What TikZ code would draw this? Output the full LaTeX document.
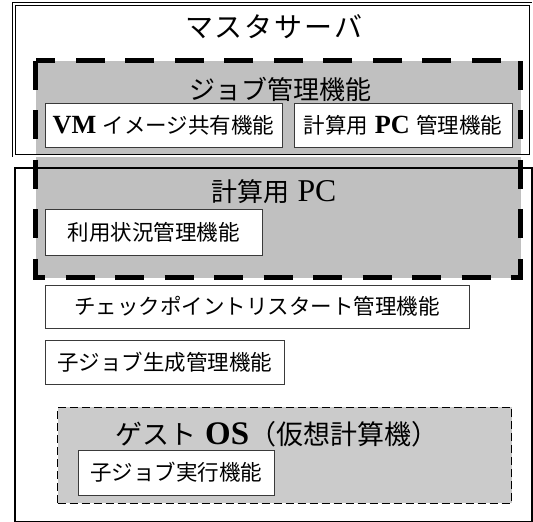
\documentclass[tikz,border=0pt]{standalone}
\usepackage{fontspec}
\setmainfont{Liberation Serif}[Scale=1.22]
\newfontfamily\jp{Noto Sans CJK JP}
\definecolor{regiongrey}{HTML}{C0C0C0}
\definecolor{guestgrey}{HTML}{CBCBCB}
\definecolor{boxline}{HTML}{3A3A3A}
\tikzset{
  funcbox/.style={draw=boxline, line width=0.9pt, fill=white, inner sep=0pt, font=\fontsize{21.5}{24}\selectfont},
  titletext/.style={inner sep=0pt, font=\fontsize{26}{30}\selectfont},
  thickdash/.style={line width=5pt, dash pattern=on 29pt off 20.5pt},
  thindash/.style={line width=1.3pt, dash pattern=on 8pt off 4pt},
}
\begin{document}
\begin{tikzpicture}[x=1pt,y=-1pt]
\useasboundingbox (0,0) rectangle (533,522);
% grey job-management region (fill)
\node[fill=regiongrey, draw=none, inner sep=0pt, minimum width=485pt, minimum height=217pt, anchor=north west] (jobregion) at (35.5,60.5) {};
% master server frame
\node[draw=black, double, double distance=2pt, line width=0.8pt, inner sep=0pt, minimum width=516.4pt, minimum height=151.4pt, anchor=north west] (master) at (13.8,3.8) {};
% compute PC frame
\node[draw=black, line width=2.5pt, inner sep=0pt, minimum width=517pt, minimum height=354pt, anchor=north west] (pc) at (13.5,166.5) {};
% dashed border of job region
\draw[thickdash] (jobregion.north west) rectangle (jobregion.south east);
% guest OS box
\node[fill=guestgrey, draw=black, thindash, inner sep=0pt, minimum width=454pt, minimum height=96pt, anchor=north west] (guest) at (57,406.5) {};

% titles
\node[titletext, font=\fontsize{28}{32}\selectfont] (mtitle) at (274,27) {\jp マ\hspace{2pt}ス\hspace{2pt}タ\hspace{2pt}サ\hspace{2pt}ー\hspace{2pt}バ};
\node[titletext] (jtitle) at (280,89) {\jp ジョブ管理機能};
\node[titletext] (ptitle) at (274,192) {{\jp 計算用} PC};
\node[titletext, font=\fontsize{27}{30}\selectfont] (gtitle) at (277,434) {{\jp ゲスト} \textbf{OS}{\jp （仮想計算機）}};

% function boxes
\node[funcbox, minimum width=237pt, minimum height=44pt] (vm) at (163.5,125) {\textbf{VM} {\jp イメージ共有機能}};
\node[funcbox, minimum width=218pt, minimum height=44pt] (pcmgr) at (403,125) {{\jp 計算用} \textbf{PC} {\jp 管理機能}};
\node[funcbox, minimum width=217pt, minimum height=46pt] (usage) at (153.5,232) {\jp 利用状況管理機能};
\node[funcbox, minimum width=424pt, minimum height=43pt] (ckpt) at (257,306.5) {\jp チェックポイントリスタート管理機能};
\node[funcbox, minimum width=239pt, minimum height=43.5pt] (child) at (164.5,362.25) {\jp 子ジョブ生成管理機能};
\node[funcbox, minimum width=196pt, minimum height=45pt] (exec) at (176,472.5) {\jp 子ジョブ実行機能};
\end{tikzpicture}
\end{document}
